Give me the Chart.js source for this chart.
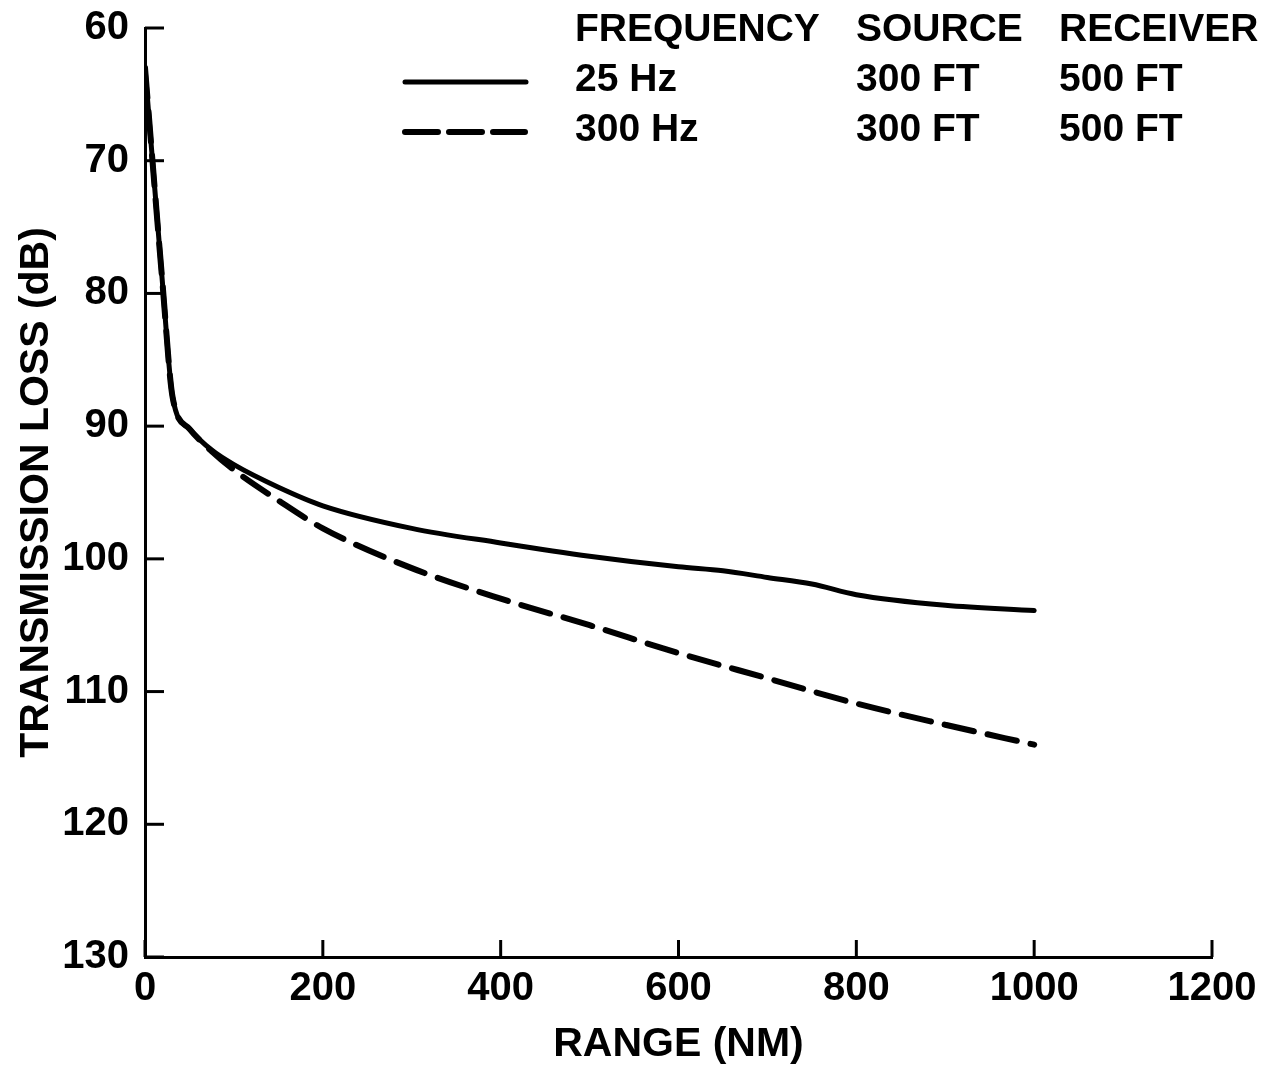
<!DOCTYPE html>
<html>
<head>
<meta charset="utf-8">
<script src="https://cdn.jsdelivr.net/npm/chart.js@4.4.1/dist/chart.umd.min.js"></script>
<style>
  body { margin: 0; background: #fff; }
  #wrap { width: 1271px; height: 1069px; }
</style>
</head>
<body>
<div id="wrap"><canvas id="lossChart"></canvas></div>
<script>
// values
const range25 = [0, 20, 31, 50, 75, 100, 150, 200, 300, 400, 500, 600, 650, 700, 750, 800, 900, 1000];
const loss25 = [63, 79.5, 87.8, 90.2, 91.8, 92.9, 94.6, 96.0, 97.7, 98.8, 99.8, 100.6, 100.9, 101.4, 101.9, 102.7, 103.5, 103.9];
const range300 = [0, 20, 31, 50, 75, 100, 150, 200, 300, 400, 500, 600, 700, 800, 900, 1000];
const loss300 = [63, 79.5, 87.8, 90.2, 91.9, 93.3, 95.6, 97.7, 100.7, 103.0, 105.0, 107.1, 109.0, 110.9, 112.5, 114.0];
const xTicks = [0, 200, 400, 600, 800, 1000, 1200];
const yTicks = [60, 70, 80, 90, 100, 110, 120, 130];
const legendHead = ['FREQUENCY', 'SOURCE', 'RECEIVER'];
const legendRows = [
    ['25 Hz', '300 FT', '500 FT'],
    ['300 Hz', '300 FT', '500 FT']
];

const textFont = "'Liberation Sans', Arial, sans-serif";

function pts(xs, ys) {
    return xs.map((x, i) => ({ x: x, y: ys[i] }));
}

// tick marks that point into the plot
const innerTicks = {
    id: 'innerTicks',
    afterDatasetsDraw(chart) {
        const c = chart.ctx;
        const a = chart.chartArea;
        c.save();
        c.strokeStyle = '#000';
        c.lineWidth = 3;
        yTicks.forEach(v => {
            const y = chart.scales.y.getPixelForValue(v);
            c.beginPath();
            c.moveTo(a.left, y);
            c.lineTo(a.left + 19, y);
            c.stroke();
        });
        xTicks.forEach(v => {
            const x = chart.scales.x.getPixelForValue(v);
            c.beginPath();
            c.moveTo(x, a.bottom);
            c.lineTo(x, a.bottom - 17);
            c.stroke();
        });
        c.restore();
    }
};

// legend table in the top right
const legendTable = {
    id: 'legendTable',
    afterDraw(chart) {
        const c = chart.ctx;
        const cols = [575, 856, 1059];
        const rowsY = [30, 80, 130];
        c.save();
        c.fillStyle = '#000';
        c.font = 'bold 39px ' + textFont;
        c.textBaseline = 'middle';
        c.textAlign = 'left';
        legendHead.forEach((t, i) => c.fillText(t, cols[i], rowsY[0]));
        legendRows.forEach((row, r) => {
            row.forEach((t, i) => c.fillText(t, cols[i], rowsY[r + 1]));
        });
        c.strokeStyle = '#000';
        c.lineCap = 'round';
        c.lineWidth = 5;
        c.beginPath();
        c.moveTo(405, rowsY[1] + 2);
        c.lineTo(526, rowsY[1] + 2);
        c.stroke();
        c.lineWidth = 6;
        c.setLineDash([33, 11]);
        c.beginPath();
        c.moveTo(405, rowsY[2] + 2);
        c.lineTo(525, rowsY[2] + 2);
        c.stroke();
        c.restore();
    }
};

const ctx = document.getElementById('lossChart').getContext('2d');
const lossChart = new Chart(ctx, {
    type: 'line',
    data: {
        datasets: [
            {
                label: '300 Hz',
                data: pts(range300, loss300),
                borderColor: '#000',
                borderWidth: 6,
                borderDash: [30, 14],
                borderCapStyle: 'round',
                cubicInterpolationMode: 'monotone',
                pointRadius: 0,
                fill: false
            },
            {
                label: '25 Hz',
                data: pts(range25, loss25),
                borderColor: '#000',
                borderWidth: 5,
                borderCapStyle: 'round',
                cubicInterpolationMode: 'monotone',
                pointRadius: 0,
                fill: false
            }
        ]
    },
    options: {
        responsive: true,
        maintainAspectRatio: false,
        animation: false,
        layout: { padding: { top: 28, right: 59, left: 0, bottom: 0 } },
        plugins: {
            legend: { display: false },
            tooltip: { enabled: false }
        },
        scales: {
            x: {
                type: 'linear',
                min: 0,
                max: 1200,
                afterBuildTicks: s => { s.ticks = xTicks.map(v => ({ value: v })); },
                afterFit: s => {
                    s.height = 112;
                    s.paddingLeft = 0;
                    s.paddingRight = 0;
                },
                grid: { display: false, drawTicks: false },
                border: { display: true, color: '#000', width: 3 },
                ticks: {
                    color: '#000',
                    padding: 8,
                    callback: v => String(v),
                    font: { family: textFont, size: 40, weight: 'bold' }
                },
                title: {
                    display: true,
                    text: 'RANGE (NM)',
                    color: '#000',
                    padding: 0,
                    font: { family: textFont, size: 41, weight: 'bold' }
                }
            },
            y: {
                type: 'linear',
                min: 60,
                max: 130,
                reverse: true,
                afterBuildTicks: s => { s.ticks = yTicks.map(v => ({ value: v })); },
                afterFit: s => {
                    s.width = 145;
                    s.paddingTop = 0;
                    s.paddingBottom = 0;
                },
                grid: { display: false, drawTicks: false },
                border: { display: true, color: '#000', width: 3 },
                ticks: {
                    color: '#000',
                    padding: 16,
                    callback: v => String(v),
                    font: { family: textFont, size: 40, weight: 'bold' }
                },
                title: {
                    display: true,
                    text: 'TRANSMISSION LOSS (dB)',
                    color: '#000',
                    padding: { top: 12, bottom: 0 },
                    font: { family: textFont, size: 41, weight: 'bold' }
                }
            }
        }
    },
    plugins: [innerTicks, legendTable]
});
</script>
</body>
</html>
